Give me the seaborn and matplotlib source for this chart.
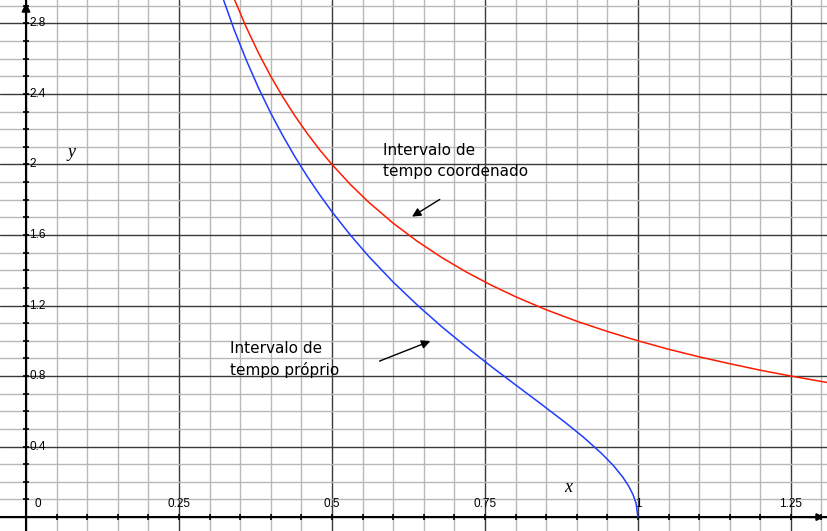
import matplotlib
matplotlib.use("Agg")
import matplotlib.pyplot as plt
from matplotlib.ticker import MultipleLocator
import seaborn as sns
import pandas as pd

# ---- data ----
coord_x = [0.34, 0.36, 0.38, 0.40, 0.42, 0.44, 0.46, 0.48, 0.50, 0.53, 0.56, 0.60,
           0.64, 0.68, 0.72, 0.76, 0.80, 0.85, 0.90, 0.95, 1.00, 1.05, 1.10, 1.15,
           1.20, 1.25, 1.31]
coord_y = [2.941, 2.778, 2.632, 2.500, 2.381, 2.273, 2.174, 2.083, 2.000, 1.887, 1.786, 1.667,
           1.563, 1.471, 1.389, 1.316, 1.250, 1.176, 1.111, 1.053, 1.000, 0.952, 0.909, 0.870,
           0.833, 0.800, 0.763]

proper_x = [0.32, 0.34, 0.36, 0.38, 0.40, 0.42, 0.44, 0.46, 0.48, 0.50, 0.53, 0.56, 0.60,
            0.64, 0.68, 0.72, 0.76, 0.80, 0.84, 0.88, 0.91, 0.94, 0.96, 0.975, 0.985,
            0.992, 0.997, 1.0]
proper_y = [2.961, 2.766, 2.592, 2.434, 2.291, 2.161, 2.041, 1.930, 1.828, 1.732, 1.600, 1.479, 1.333,
            1.201, 1.078, 0.964, 0.855, 0.750, 0.646, 0.540, 0.456, 0.363, 0.292, 0.228, 0.175,
            0.127, 0.078, 0.0]

x_tick_vals = [0, 0.25, 0.5, 0.75, 1, 1.25]
x_tick_labels = ["0", "0.25", "0.5", "0.75", "1", "1.25"]
y_tick_vals = [0.4, 0.8, 1.2, 1.6, 2.0, 2.4, 2.8]
y_tick_labels = ["0.4", "0.8", "1.2", "1.6", "2", "2.4", "2.8"]

label_coord = "Intervalo de\ntempo coordenado"
label_proper = "Intervalo de\ntempo próprio"

df = pd.concat([
    pd.DataFrame({"x": coord_x, "y": coord_y, "curve": "coord"}),
    pd.DataFrame({"x": proper_x, "y": proper_y, "curve": "proper"}),
], ignore_index=True)

sns.set_style("white")
plt.rcParams["font.family"] = ["DejaVu Sans"]

fig = plt.figure(figsize=(8.27, 5.31), dpi=100)
ax = fig.add_axes([0, 0, 1, 1])

sns.lineplot(data=df, x="x", y="y", hue="curve", palette={"coord": "#ff1a00", "proper": "#1f3cff"},
             sort=False, estimator=None, linewidth=1.1, legend=False, ax=ax, zorder=5)

ax.set_xlim(-0.0425, 1.309)
ax.set_ylim(-0.079, 2.933)

ax.xaxis.set_major_locator(MultipleLocator(0.25))
ax.xaxis.set_minor_locator(MultipleLocator(0.05))
ax.yaxis.set_major_locator(MultipleLocator(0.4))
ax.yaxis.set_minor_locator(MultipleLocator(0.1))
ax.grid(which="major", color="#3a3a3a", linewidth=1.0, zorder=0)
ax.grid(which="minor", color="#b8b8b8", linewidth=1.0, zorder=0)
ax.set_axisbelow(True)

for s in ["top", "right"]:
    ax.spines[s].set_visible(False)
ax.spines["left"].set_position(("data", 0))
ax.spines["bottom"].set_position(("data", 0))
for s in ["left", "bottom"]:
    ax.spines[s].set_linewidth(1.5)
    ax.spines[s].set_color("black")
    ax.spines[s].set_zorder(3)
ax.tick_params(which="both", direction="inout", length=5, width=1.2, color="black",
               labelleft=False, labelbottom=False, left=True, bottom=True)
ax.set_xlabel("")
ax.set_ylabel("")

# axis arrows
ax.annotate("", xy=(0, 1.0), xycoords=("data", "axes fraction"),
            xytext=(0, 0.96), textcoords=("data", "axes fraction"),
            arrowprops=dict(arrowstyle="-|>", color="black", lw=1.5, mutation_scale=12))
ax.annotate("", xy=(1.0, 0), xycoords=("axes fraction", "data"),
            xytext=(0.975, 0), textcoords=("axes fraction", "data"),
            arrowprops=dict(arrowstyle="-|>", color="black", lw=1.5, mutation_scale=10))

# tick labels
for v, t in zip(x_tick_vals, x_tick_labels):
    xx = 0.0196 if v == 0 else v
    ax.text(xx, 0.074, t, ha="center", va="center", fontsize=8.5,
            family="Liberation Sans", color="black", zorder=2)
for v, t in zip(y_tick_vals, y_tick_labels):
    ax.text(0.005, v, t, ha="left", va="center", fontsize=8.5,
            family="Liberation Sans", color="black", zorder=2)

# axis names
ax.text(0.886, 0.165, "x", fontsize=13, style="italic", family="Liberation Serif",
        ha="center", va="center", color="black")
ax.text(0.075, 2.07, "y", fontsize=13, style="italic", family="Liberation Serif",
        ha="center", va="center", color="black")

# annotations
ax.text(0.583, 2.12, label_coord, ha="left", va="top", fontsize=11, linespacing=1.45,
        color="black", zorder=6)
ax.annotate("", xy=(0.627, 1.696), xytext=(0.680, 1.810),
            arrowprops=dict(arrowstyle="-|>", color="black", lw=1.0, mutation_scale=13))
ax.text(0.333, 1.0, label_proper, ha="left", va="top", fontsize=11, linespacing=1.45,
        color="black", zorder=6)
ax.annotate("", xy=(0.665, 1.004), xytext=(0.5735, 0.879),
            arrowprops=dict(arrowstyle="-|>", color="black", lw=1.0, mutation_scale=13))

fig.savefig("out.png", dpi=100)
